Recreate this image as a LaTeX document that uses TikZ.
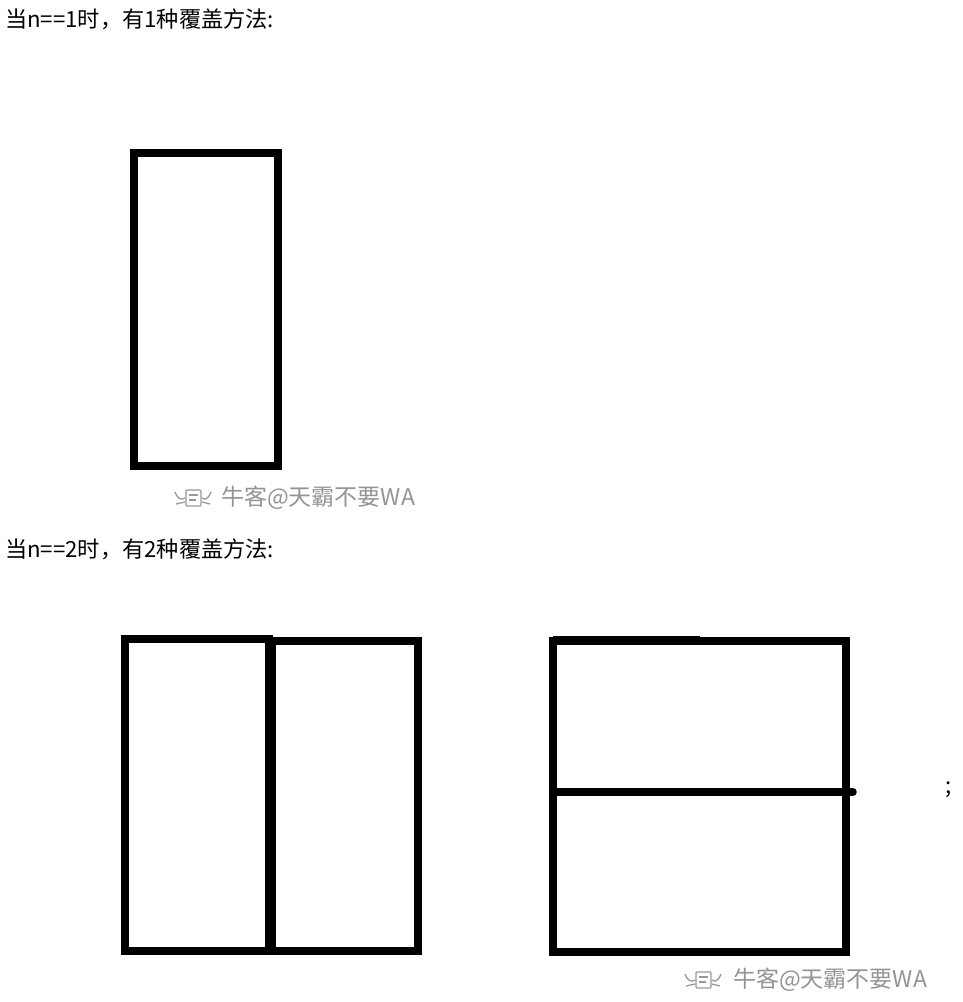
\documentclass[tikz,border=0pt]{standalone}
\usepackage{fontspec}
\setmainfont{Noto Sans CJK SC}

\tikzset{
  tile/.style={black, line width=7.5pt},
  caption/.style={anchor=west, inner sep=0pt, font=\fontsize{22.2}{26}\selectfont},
  wmtext/.style={anchor=west, inner sep=0pt, text=black!42, font=\fontsize{23}{27}\selectfont},
  wmicon/.style={black!40, line width=1.3pt}
}

% small watermark logo
\newcommand{\nkicon}[2]{
  \begin{scope}[shift={(#1,#2)}]
    \draw [wmicon, rounded corners=1pt] (-7,-7) rectangle (8,9);
    \draw [wmicon] (-4,-2) -- (5,-2);
    \draw [wmicon] (-4,3) -- (3,3);
    \draw [wmicon] (-18,-5) .. controls (-15,3) and (-11,3) .. (-8,1);
    \draw [wmicon] (18,-5) .. controls (15,3) and (11,3) .. (9,1);
    \draw [wmicon] (-17,7) -- (-8,5);
    \draw [wmicon] (17,7) -- (9,5);
  \end{scope}
}

\begin{document}
\begin{tikzpicture}[x=1pt, y=-1pt]
  \useasboundingbox [fill=white] (0,0) rectangle (962,1002);

  % n = 1
  \node [caption] (capone) at (5,19) {当n==1时，有1种覆盖方法:};
  \draw [tile] (134,153) rectangle (278,466);
  \nkicon{193}{497}
  \node [wmtext] (wmone) at (221,498) {牛客@天霸不要WA};

  % n = 2
  \node [caption] (captwo) at (5,549) {当n==2时，有2种覆盖方法:};
  % two standing tiles
  \draw [tile] (125,639) rectangle (269,951);
  \draw [tile] (272,641) rectangle (418,951);
  % two lying tiles
  \draw [tile] (553,641) rectangle (846,952);
  \draw [tile] (553,639.5) -- (700,639.5);
  \draw [tile, line cap=round] (553,792) -- (853,792);
  \node [caption] (semi) at (945,790) {;};
  \nkicon{703}{979}
  \node [wmtext] (wmtwo) at (733,980) {牛客@天霸不要WA};
\end{tikzpicture}
\end{document}
